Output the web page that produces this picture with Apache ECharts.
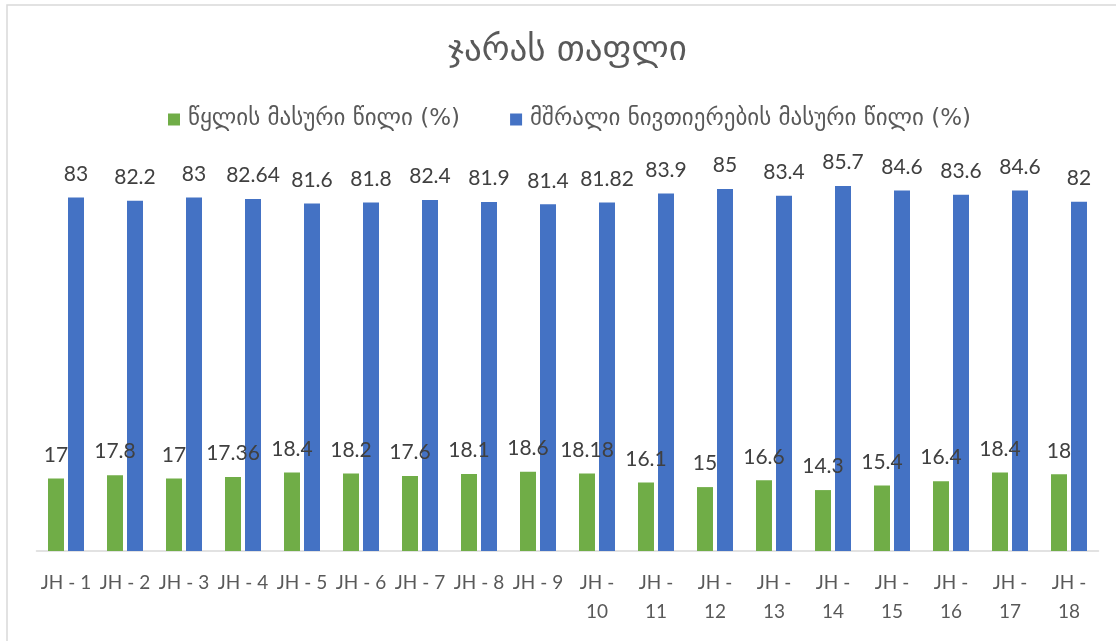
<!DOCTYPE html>
<html>
<head>
<meta charset="utf-8">
<script src="https://cdn.jsdelivr.net/npm/echarts@6/dist/echarts.min.js"></script>
<style>
  html, body { margin: 0; padding: 0; background: #fff; }
  #chart { width: 1116px; height: 641px; }
</style>
</head>
<body>
<div id="chart"></div>
<script>
    var categories = ['JH - 1', 'JH - 2', 'JH - 3', 'JH - 4', 'JH - 5', 'JH - 6', 'JH - 7', 'JH - 8', 'JH - 9',
        'JH - 10', 'JH - 11', 'JH - 12', 'JH - 13', 'JH - 14', 'JH - 15', 'JH - 16', 'JH - 17', 'JH - 18'];
    var waterShare = [17, 17.8, 17, 17.36, 18.4, 18.2, 17.6, 18.1, 18.6, 18.18, 16.1, 15, 16.6, 14.3, 15.4, 16.4, 18.4, 18];
    var dryShare = [83, 82.2, 83, 82.64, 81.6, 81.8, 82.4, 81.9, 81.4, 81.82, 83.9, 85, 83.4, 85.7, 84.6, 83.6, 84.6, 82];
    var waterName = 'წყლის მასური წილი (%)';
    var dryName = 'მშრალი ნივთიერების მასური წილი (%)';

    var chart = echarts.init(document.getElementById('chart'));

    var labelStyle = {
        show: true,
        position: 'top',
        distance: 13,
        fontFamily: 'Lato',
        fontSize: 21,
        color: '#404040'
    };

    var option = {
        backgroundColor: '#fff',
        animation: false,
        graphic: [{
            type: 'rect',
            shape: { x: 7, y: 5, width: 1200, height: 700 },
            style: { fill: 'none', stroke: '#d9d9d9', lineWidth: 1.5 }
        }],
        title: {
            text: 'ჯარას თაფლი',
            left: 443,
            top: 28,
            textStyle: {
                fontFamily: 'DejaVu Sans',
                fontSize: 35,
                fontWeight: 'normal',
                color: '#595959'
            }
        },
        legend: {
            top: 103,
            left: 163,
            itemWidth: 12,
            itemHeight: 12,
            itemGap: 50,
            icon: 'rect',
            textStyle: {
                fontFamily: 'DejaVu Sans',
                fontSize: 23,
                color: '#595959',
                padding: [0, 0, 0, 3]
            },
            data: [waterName, dryName]
        },
        grid: {
            left: 36.5,
            right: 17.5,
            top: 167.6,
            bottom: 90,
            containLabel: false
        },
        xAxis: {
            type: 'category',
            data: categories,
            axisLine: { lineStyle: { color: '#d9d9d9', width: 1.5 } },
            axisTick: { show: false },
            axisLabel: {
                interval: 0,
                margin: 17,
                fontFamily: 'Lato',
                fontSize: 19,
                lineHeight: 29,
                color: '#595959',
                formatter: function (v) {
                    return v.length > 6 ? v.replace('- ', '-\n') : v;
                }
            }
        },
        yAxis: {
            type: 'value',
            min: 0,
            max: 90,
            show: false,
            splitLine: { show: false }
        },
        series: [
            {
                name: waterName,
                type: 'bar',
                data: waterShare,
                barWidth: 16,
                barGap: '25%',
                itemStyle: { color: '#70ad47' },
                label: labelStyle
            },
            {
                name: dryName,
                type: 'bar',
                data: dryShare,
                barWidth: 16,
                itemStyle: { color: '#4472c4' },
                label: labelStyle
            }
        ]
    };
    chart.setOption(option);
</script>
</body>
</html>
